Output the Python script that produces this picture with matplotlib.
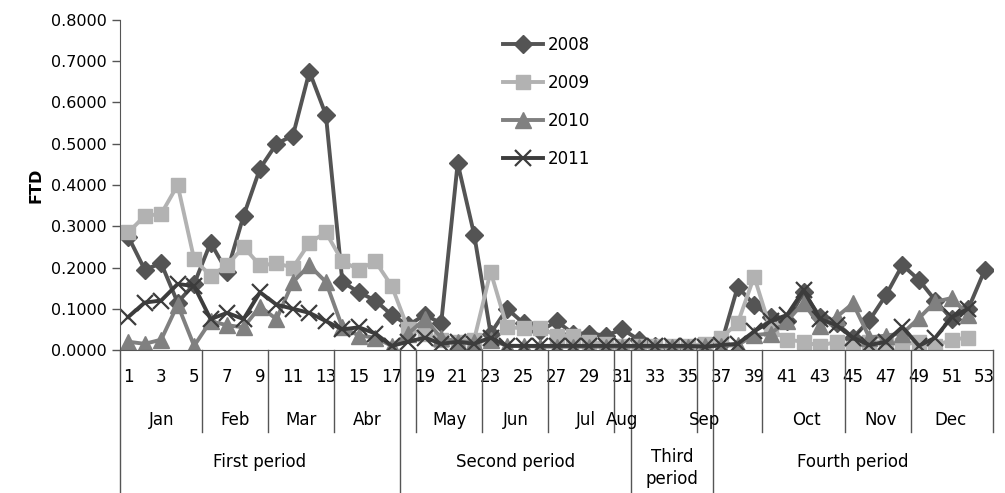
import numpy as np
import matplotlib
matplotlib.use('Agg')
from matplotlib import pyplot as plt
import matplotlib.transforms as mtransforms

# semanas epidemiologicas
semanas = list(range(1, 54))

ftd_2008 = [0.275, 0.195, 0.210, 0.115, 0.160, 0.260, 0.190, 0.325, 0.440, 0.500,
            0.520, 0.675, 0.570, 0.165, 0.140, 0.120, 0.085, 0.060, 0.085, 0.065,
            0.453, 0.280, 0.040, 0.100, 0.065, 0.045, 0.070, 0.040, 0.040, 0.035,
            0.050, 0.025, 0.010, 0.005, 0.005, 0.010, 0.015, 0.153, 0.110, 0.080,
            0.070, 0.140, 0.080, 0.065, 0.030, 0.072, 0.133, 0.206, 0.170, 0.120,
            0.075, 0.100, 0.194]
ftd_2009 = [0.285, 0.325, 0.330, 0.400, 0.220, 0.180, 0.205, 0.250, 0.205, 0.210,
            0.200, 0.260, 0.285, 0.215, 0.195, 0.215, 0.155, 0.050, 0.040, 0.025,
            0.020, 0.025, 0.190, 0.055, 0.053, 0.053, 0.035, 0.035, 0.020, 0.015,
            0.010, 0.010, 0.010, 0.010, 0.010, 0.015, 0.030, 0.065, 0.178, 0.050,
            0.025, 0.020, 0.010, 0.020, 0.005, 0.020, 0.020, 0.012, 0.020, 0.010,
            0.025, 0.030]
ftd_2010 = [0.020, 0.015, 0.025, 0.110, 0.010, 0.070, 0.060, 0.055, 0.105, 0.075,
            0.165, 0.205, 0.165, 0.055, 0.035, 0.030, 0.010, 0.040, 0.075, 0.030,
            0.020, 0.020, 0.025, 0.010, 0.010, 0.008, 0.008, 0.008, 0.008, 0.008,
            0.008, 0.008, 0.008, 0.008, 0.008, 0.010, 0.010, 0.012, 0.036, 0.040,
            0.070, 0.115, 0.057, 0.080, 0.113, 0.030, 0.035, 0.040, 0.077, 0.117,
            0.126, 0.085]
ftd_2011 = [0.080, 0.115, 0.120, 0.160, 0.155, 0.075, 0.090, 0.075, 0.140, 0.110,
            0.100, 0.090, 0.070, 0.050, 0.055, 0.040, 0.010, 0.020, 0.030, 0.015,
            0.020, 0.015, 0.030, 0.010, 0.010, 0.010, 0.010, 0.010, 0.010, 0.010,
            0.010, 0.010, 0.010, 0.010, 0.010, 0.008, 0.012, 0.015, 0.045, 0.070,
            0.085, 0.145, 0.075, 0.060, 0.030, 0.012, 0.020, 0.056, 0.010, 0.030,
            0.080, 0.100]

# meses: (nombre, posicion del texto)
meses = [('Jan', 3), ('Feb', 7.5), ('Mar', 11.5), ('Abr', 15.5), ('May', 20.5),
         ('Jun', 24.5), ('Jul', 28.8), ('Aug', 31), ('Sep', 36), ('Oct', 42.2),
         ('Nov', 46.7), ('Dec', 50.9)]
limites_meses = [5.5, 9.5, 13.5, 18.5, 22.5, 26.5, 30.5, 35.5, 39.5, 44.5, 48.5, 53.5]

periodos = [('First period', 9), ('Second period', 24.5), ('Third\nperiod', 34),
            ('Fourth period', 45)]
limites_periodos = [0.5, 17.5, 31.5, 36.5]

series = [('2008', ftd_2008, '#545454', 'D', 9),
          ('2009', ftd_2009, '#b2b2b2', 's', 10),
          ('2010', ftd_2010, '#808080', '^', 11),
          ('2011', ftd_2011, '#3c3c3c', 'x', 11)]

plt.rcParams['font.family'] = ['DejaVu Sans']
fig = plt.figure(figsize=(10.05, 4.93), dpi=100)
ax = fig.add_axes([120/1005, 1 - 350/493, 873/1005, 330/493])

for nombre, valores, color, marcador, tam in series:
    x = semanas[:len(valores)]
    if marcador == 'x':
        ax.plot(x, valores, color=color, lw=2.8, marker=marcador, ms=tam, mew=1.6,
                label=nombre)
    else:
        ax.plot(x, valores, color=color, lw=2.8, marker=marcador, ms=tam,
                mec=color, label=nombre)

ax.set_xlim(0.5, 53.5)
ax.set_ylim(0, 0.8)
ax.set_yticks(np.arange(0, 0.81, 0.1))
ax.set_yticklabels(['%.4f' % v for v in np.arange(0, 0.81, 0.1)], fontsize=11.5)
ax.tick_params(axis='y', direction='out', length=6, width=1, color='#555555')
ax.set_ylabel('FTD', fontsize=11.5, fontweight='bold', labelpad=5)

impares = semanas[::2]
ax.set_xticks(impares)
ax.set_xticklabels([str(s) for s in impares], fontsize=12,
                   family=['Liberation Sans Narrow', 'DejaVu Sans'])
ax.tick_params(axis='x', length=0, pad=13)

ax.spines['top'].set_visible(False)
ax.spines['right'].set_visible(False)
ax.spines['left'].set_color('#555555')
ax.spines['bottom'].set_color('#555555')

# tabla de categorias debajo del eje
trans = mtransforms.blended_transform_factory(ax.transData, ax.transAxes)
y_mes = (350 - 432) / 330
y_fondo = (350 - 493) / 330
for b in limites_meses:
    ax.plot([b, b], [0, y_mes], color='#555555', lw=1, transform=trans, clip_on=False)
for b in limites_periodos:
    ax.plot([b, b], [0, y_fondo], color='#555555', lw=1, transform=trans, clip_on=False)

for nombre, pos in meses:
    ax.text(pos, (350 - 420) / 330, nombre, transform=trans, ha='center', va='center',
            fontsize=12, family=['Liberation Sans Narrow', 'DejaVu Sans'])
for nombre, pos in periodos:
    ax.text(pos, (350 - 462) / 330 if '\n' not in nombre else (350 - 468) / 330,
            nombre, transform=trans, ha='center', va='center', fontsize=12,
            linespacing=1.35, family=['Liberation Sans Narrow', 'DejaVu Sans'])

ax.legend(loc='upper left', bbox_to_anchor=(503/1005, 1 - 36/493),
          bbox_transform=fig.transFigure, frameon=False, fontsize=12,
          handlelength=2.4, handletextpad=0.3, labelspacing=1.2,
          borderpad=0, borderaxespad=0)

plt.savefig('out.png', dpi=100)
